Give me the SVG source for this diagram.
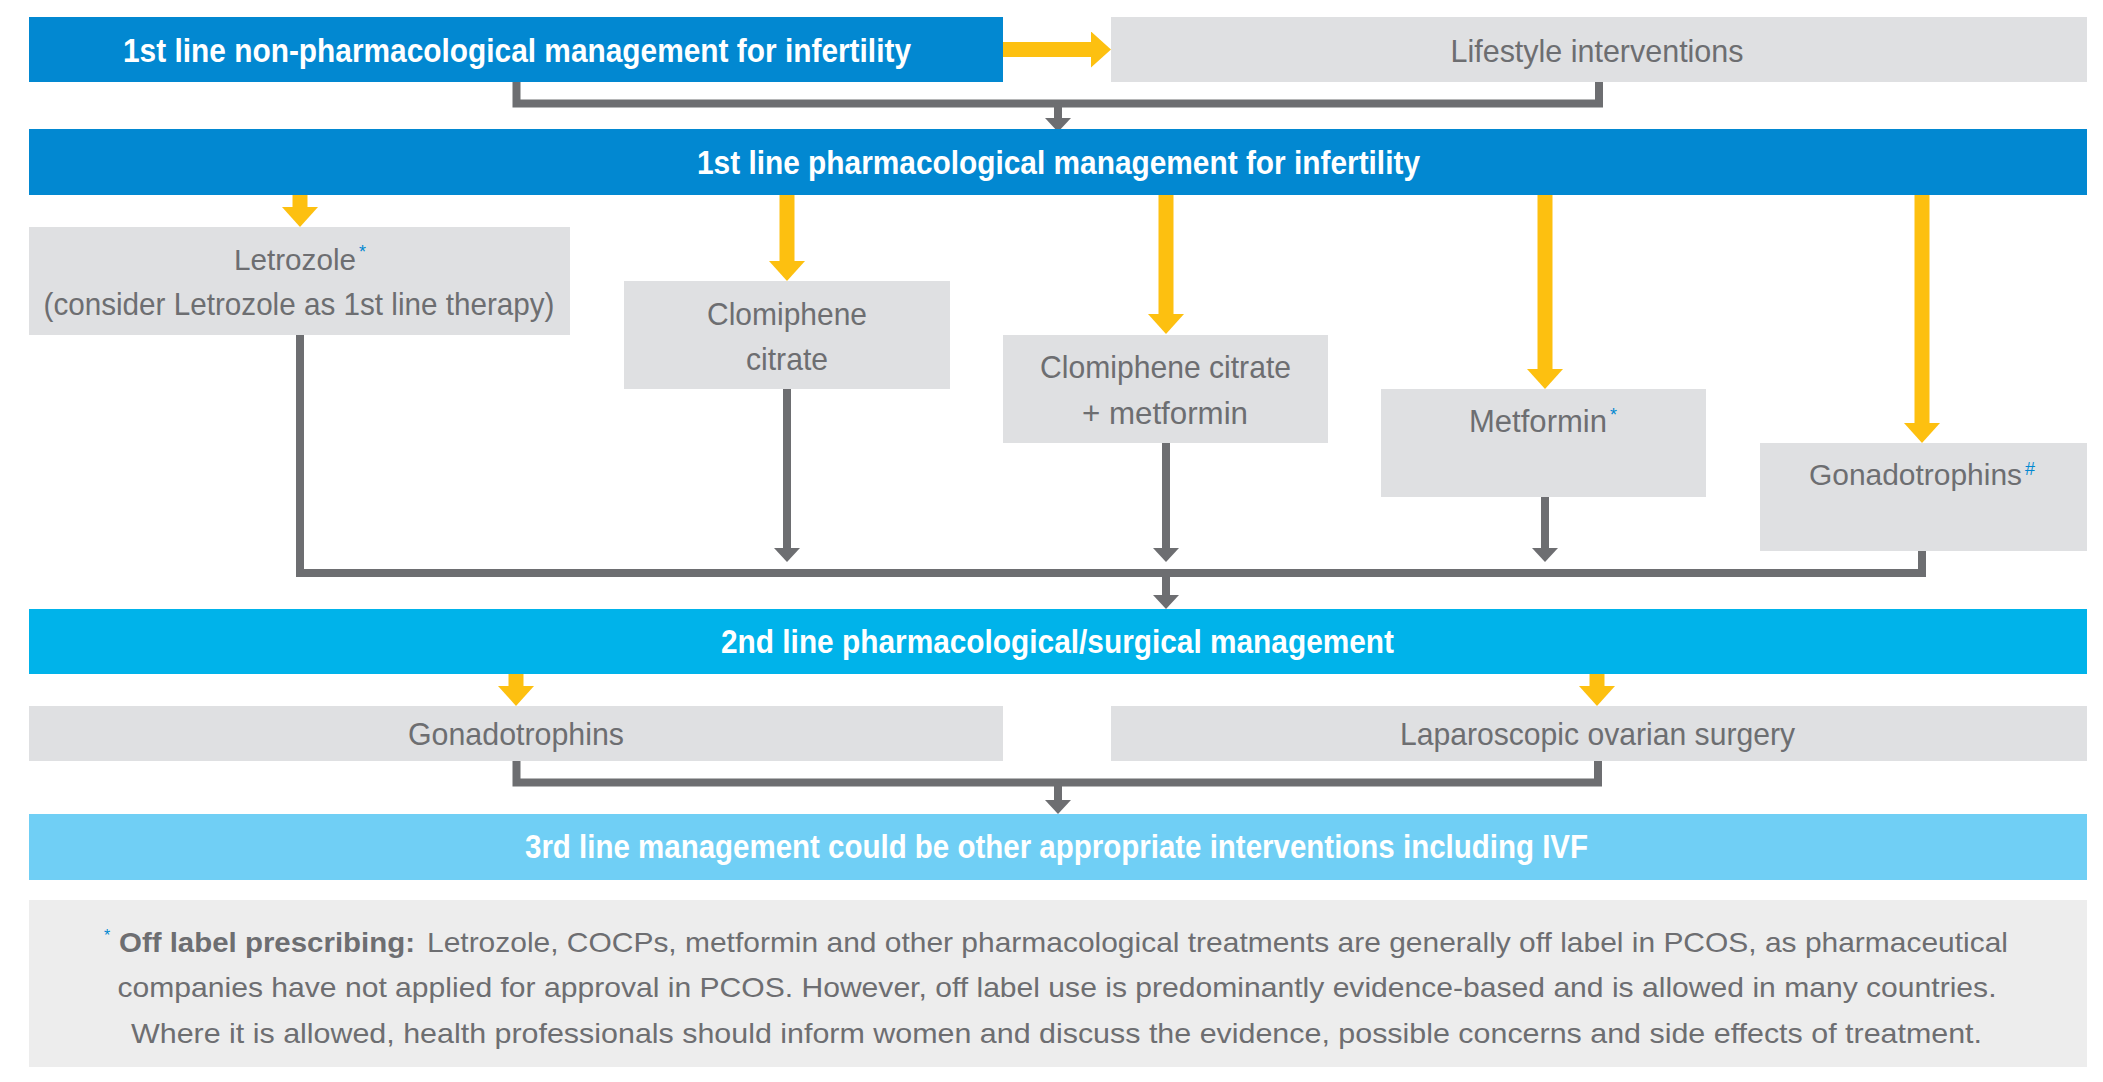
<svg xmlns="http://www.w3.org/2000/svg" width="2103" height="1082" viewBox="0 0 2103 1082">
<style>
  text { font-family: "Liberation Sans", Arial, sans-serif; }
  .hdr { font-weight: bold; font-size: 34px; fill: #FFFFFF; }
  .lbl { font-size: 32px; fill: #6D6E71; }
  .sup { font-size: 18px; fill: #0288D1; }
  .fn { font-size: 28px; fill: #6D6E71; }
  .fnb { font-weight: bold; }
  .dark { fill: #0288D1; }
  .cyan { fill: #00B3EA; }
  .light { fill: #70CFF5; }
  .node { fill: #DFE0E2; }
  .note { fill: #EDEDED; }
  .y { stroke: #FDC010; stroke-width: 15; fill: none; marker-end: url(#ya); }
  .g { stroke: #6D6E71; stroke-width: 8; fill: none; }
  .ga { stroke: #6D6E71; stroke-width: 8; fill: none; marker-end: url(#ga); }
</style>
<defs>
  <marker id="ya" markerUnits="userSpaceOnUse" viewBox="0 0 20 36" markerWidth="20" markerHeight="36" refX="0" refY="18" orient="auto">
    <path d="M0,0 L20,18 L0,36 Z" fill="#FDC010"/>
  </marker>
  <marker id="ga" markerUnits="userSpaceOnUse" viewBox="0 0 14 26" markerWidth="14" markerHeight="26" refX="0" refY="13" orient="auto">
    <path d="M0,0 L14,13 L0,26 Z" fill="#6D6E71"/>
  </marker>
</defs>

<g id="connectors">
  <line class="y" x1="1003" y1="49.5" x2="1091" y2="49.5"/>
  <path class="g" d="M516.5,82 V103.5 H1599 V82"/>
  <line class="ga" x1="1058" y1="103.5" x2="1058" y2="118"/>
  <line class="y" x1="300" y1="194" x2="300" y2="207"/>
  <line class="y" x1="787" y1="194" x2="787" y2="261"/>
  <line class="y" x1="1166" y1="194" x2="1166" y2="314"/>
  <line class="y" x1="1545" y1="194" x2="1545" y2="369"/>
  <line class="y" x1="1922" y1="194" x2="1922" y2="423"/>
  <path class="g" d="M300,335 V573 H1922 V551"/>
  <line class="ga" x1="787" y1="389" x2="787" y2="548"/>
  <line class="ga" x1="1166" y1="443" x2="1166" y2="548"/>
  <line class="ga" x1="1545" y1="497" x2="1545" y2="548"/>
  <line class="ga" x1="1166" y1="573" x2="1166" y2="595"/>
  <line class="y" x1="516" y1="673" x2="516" y2="686"/>
  <line class="y" x1="1597" y1="673" x2="1597" y2="686"/>
  <path class="g" d="M516.5,761 V782.5 H1598 V761"/>
  <line class="ga" x1="1058" y1="782.5" x2="1058" y2="800"/>
</g>

<g id="nonpharm">
  <rect class="dark" x="29" y="17" width="974" height="65"/>
  <text class="hdr" x="123" y="62" textLength="788" lengthAdjust="spacingAndGlyphs">1st line non-pharmacological management for infertility</text>
</g>
<g id="lifestyle">
  <rect class="node" x="1111" y="17" width="976" height="65"/>
  <text class="lbl" x="1450.5" y="61.5" textLength="293" lengthAdjust="spacingAndGlyphs">Lifestyle interventions</text>
</g>
<g id="pharm1">
  <rect class="dark" x="29" y="129" width="2058" height="66"/>
  <text class="hdr" x="697" y="173.5" textLength="723" lengthAdjust="spacingAndGlyphs">1st line pharmacological management for infertility</text>
</g>
<g id="letrozole">
  <rect class="node" x="29" y="227" width="541" height="108"/>
  <text class="lbl" x="234" y="270" style="font-size:30px" textLength="122" lengthAdjust="spacingAndGlyphs">Letrozole</text>
  <text class="sup" x="359" y="258">*</text>
  <text class="lbl" x="43.5" y="315" textLength="511" lengthAdjust="spacingAndGlyphs">(consider Letrozole as 1st line therapy)</text>
</g>
<g id="clomiphene">
  <rect class="node" x="624" y="281" width="326" height="108"/>
  <text class="lbl" x="707" y="325" textLength="160" lengthAdjust="spacingAndGlyphs">Clomiphene</text>
  <text class="lbl" x="746" y="370" textLength="82" lengthAdjust="spacingAndGlyphs">citrate</text>
</g>
<g id="clomiphene-metformin">
  <rect class="node" x="1003" y="335" width="325" height="108"/>
  <text class="lbl" x="1040" y="378" textLength="251" lengthAdjust="spacingAndGlyphs">Clomiphene citrate</text>
  <text class="lbl" x="1082" y="424" textLength="166" lengthAdjust="spacingAndGlyphs">+ metformin</text>
</g>
<g id="metformin">
  <rect class="node" x="1381" y="389" width="325" height="108"/>
  <text class="lbl" x="1469" y="432" style="font-size:31px" textLength="138" lengthAdjust="spacingAndGlyphs">Metformin</text>
  <text class="sup" x="1610" y="421">*</text>
</g>
<g id="gonadotrophins1">
  <rect class="node" x="1760" y="443" width="327" height="108"/>
  <text class="lbl" x="1809" y="485" style="font-size:30px" textLength="213" lengthAdjust="spacingAndGlyphs">Gonadotrophins</text>
  <text class="sup" x="2025" y="475">#</text>
</g>
<g id="second-line">
  <rect class="cyan" x="29" y="609" width="2058" height="65"/>
  <text class="hdr" x="721" y="652.5" textLength="673" lengthAdjust="spacingAndGlyphs">2nd line pharmacological/surgical management</text>
</g>
<g id="gonadotrophins2">
  <rect class="node" x="29" y="706" width="974" height="55"/>
  <text class="lbl" x="408" y="745" textLength="216" lengthAdjust="spacingAndGlyphs">Gonadotrophins</text>
</g>
<g id="laparoscopic">
  <rect class="node" x="1111" y="706" width="976" height="55"/>
  <text class="lbl" x="1400" y="745" textLength="395" lengthAdjust="spacingAndGlyphs">Laparoscopic ovarian surgery</text>
</g>
<g id="third-line">
  <rect class="light" x="29" y="814" width="2058" height="66"/>
  <text class="hdr" x="525" y="858" textLength="1063" lengthAdjust="spacingAndGlyphs">3rd line management could be other appropriate interventions including IVF</text>
</g>
<g id="footnote">
  <rect class="note" x="29" y="900" width="2058" height="167"/>
  <text class="fn" x="104" y="941"><tspan class="sup" style="font-size:16px">*</tspan><tspan class="fnb" x="119" y="952" textLength="296" lengthAdjust="spacingAndGlyphs">Off label prescribing:</tspan><tspan x="427" y="952" textLength="1581" lengthAdjust="spacingAndGlyphs">Letrozole, COCPs, metformin and other pharmacological treatments are generally off label in PCOS, as pharmaceutical</tspan></text>
  <text class="fn" x="117.5" y="997" textLength="1879" lengthAdjust="spacingAndGlyphs">companies have not applied for approval in PCOS. However, off label use is predominantly evidence-based and is allowed in many countries.</text>
  <text class="fn" x="131" y="1043" textLength="1851" lengthAdjust="spacingAndGlyphs">Where it is allowed, health professionals should inform women and discuss the evidence, possible concerns and side effects of treatment.</text>
</g>
</svg>
